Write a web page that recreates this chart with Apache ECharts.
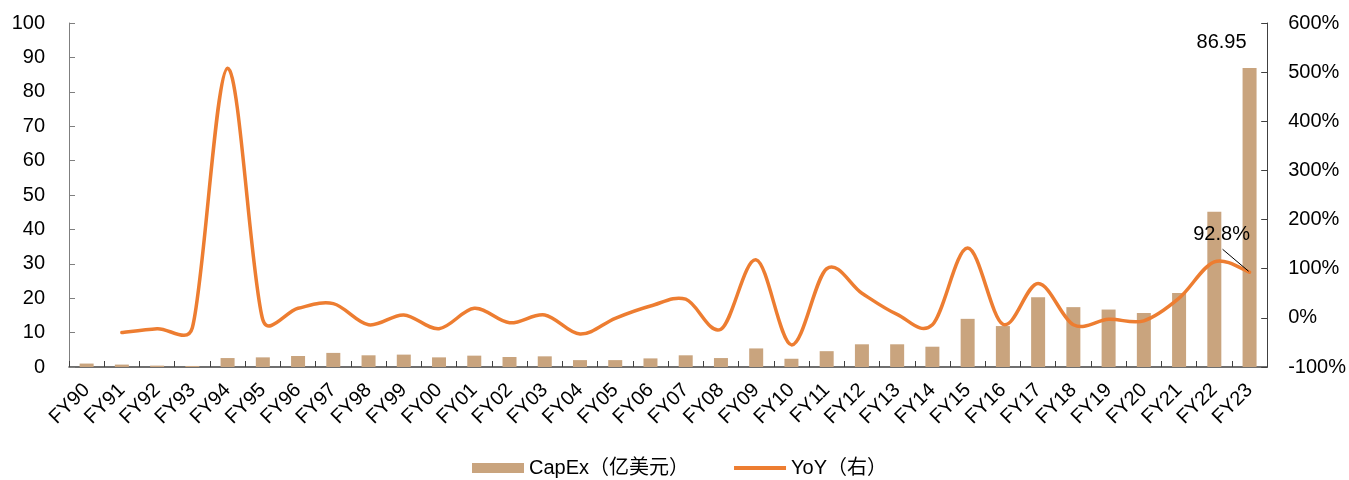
<!DOCTYPE html>
<html>
<head>
<meta charset="utf-8">
<script src="https://cdn.jsdelivr.net/npm/echarts@6/dist/echarts.min.js"></script>
<style>
  html, body { margin: 0; padding: 0; background: #fff; }
  #chart { width: 1349px; height: 480px; }
</style>
</head>
<body>
<div id="chart"></div>
<script>
// Fiscal years on the category axis
const categories = ['FY90','FY91','FY92','FY93','FY94','FY95','FY96','FY97','FY98','FY99',
  'FY00','FY01','FY02','FY03','FY04','FY05','FY06','FY07','FY08','FY09',
  'FY10','FY11','FY12','FY13','FY14','FY15','FY16','FY17','FY18','FY19',
  'FY20','FY21','FY22','FY23'];

// Capital expenditure, 亿美元 (left axis)
const capex = [1.0, 0.7, 0.4, 0.3, 2.6, 2.8, 3.2, 4.1, 3.4, 3.6,
  2.8, 3.3, 2.9, 3.1, 2.0, 2.0, 2.5, 3.4, 2.6, 5.4,
  2.4, 4.6, 6.6, 6.6, 5.9, 14.0, 11.9, 20.3, 17.4, 16.7,
  15.7, 21.5, 45.1, 86.95];

// Year-over-year growth, % (right axis); FY90 has no prior year
const yoy = [null, -30, -22, -20, 508, -4, 19.5, 29, -14, 6,
  -22, 19.5, -10, 6, -33, -1, 24, 38, -23, 118,
  -55, 100, 50, 7, -14, 142, -13, 70, -14, -3,
  -6, 40, 114, 92.8];

const leftTicks = { min: 0, max: 100, interval: 10 };
const rightTicks = { min: -100, max: 600, interval: 100 };

const FONT = 'Liberation Sans, Arial, sans-serif';
const barColor = '#C9A47E';
const lineColor = '#ED7D31';
const last = categories.length - 1;

const barData = capex.map((v, i) => i === last ? {
  value: v,
  label: { show: true, position: 'top', offset: [-28, -10], color: '#000',
           fontSize: 20, fontFamily: FONT, formatter: '{c}' }
} : v);

const yoyPoints = [];
yoy.forEach((v, i) => { if (v !== null) yoyPoints.push([i, v]); });

// Smoothed curve: cubic Bezier segments whose control points follow the
// neighbouring points (1/6 of the chord), capped at half the segment length.
function dist(a, b) { return Math.hypot(b[0] - a[0], b[1] - a[1]); }
function smoothPath(pts) {
  let d = 'M' + pts[0][0] + ' ' + pts[0][1];
  for (let i = 0; i < pts.length - 1; i++) {
    const p0 = pts[i - 1] || pts[i];
    const p1 = pts[i];
    const p2 = pts[i + 1];
    const p3 = pts[i + 2] || pts[i + 1];
    const seg = dist(p1, p2);
    const c02 = dist(p0, p2), c13 = dist(p1, p3);
    let f1 = 1 / 6, f2 = 1 / 6;
    if (c02 / 6 > seg / 2 && c02 > 0) f1 = seg / (2 * c02);
    if (c13 / 6 > seg / 2 && c13 > 0) f2 = seg / (2 * c13);
    const a = [p1[0] + (p2[0] - p0[0]) * f1, p1[1] + (p2[1] - p0[1]) * f1];
    const b = [p2[0] - (p3[0] - p1[0]) * f2, p2[1] - (p3[1] - p1[1]) * f2];
    d += ' C' + a[0] + ' ' + a[1] + ' ' + b[0] + ' ' + b[1] + ' ' + p2[0] + ' ' + p2[1];
  }
  return d;
}

function renderYoY(params, api) {
  if (params.dataIndex !== 0) return null;
  const pts = yoyPoints.map(p => api.coord(p));
  const end = pts[pts.length - 1];
  return {
    type: 'group',
    children: [
      {
        type: 'path',
        shape: { pathData: smoothPath(pts) },
        style: { fill: null, stroke: lineColor, lineWidth: 3.5, lineJoin: 'round', lineCap: 'round' }
      },
      {
        type: 'line',
        shape: { x1: end[0] - 27, y1: end[1] - 23, x2: end[0] - 1, y2: end[1] - 1 },
        style: { stroke: '#000', lineWidth: 1 }
      },
      {
        type: 'text',
        x: end[0] - 28,
        y: end[1] - 38,
        style: {
          text: yoy[last] + '%',
          fill: '#000',
          font: '20px ' + FONT,
          align: 'center',
          verticalAlign: 'middle'
        }
      }
    ]
  };
}

const chart = echarts.init(document.getElementById('chart'), null, { renderer: 'canvas' });
chart.setOption({
  animation: false,
  backgroundColor: '#fff',
  textStyle: { fontFamily: FONT },
  grid: { left: 69, right: 81, top: 23, bottom: 113, containLabel: false },
  legend: {
    top: 458,
    left: 472,
    padding: 0,
    itemWidth: 52,
    itemHeight: 10,
    itemGap: 45,
    textStyle: { fontSize: 20, color: '#000', fontFamily: FONT + ', Noto Sans CJK SC' },
    data: [
      { name: 'CapEx（亿美元）', icon: 'rect' },
      { name: 'YoY（右）', icon: 'path://M0,0H52V4H0Z' }
    ]
  },
  xAxis: {
    type: 'category',
    data: categories,
    boundaryGap: true,
    axisLine: { show: true, lineStyle: { color: '#404040', width: 1.5 } },
    axisTick: { show: true, inside: true, length: 6, lineStyle: { color: '#404040', width: 1 } },
    axisLabel: { rotate: 45, interval: 0, margin: 20,
                 color: '#000', fontSize: 20, fontFamily: FONT }
  },
  yAxis: [
    {
      type: 'value',
      min: leftTicks.min, max: leftTicks.max, interval: leftTicks.interval,
      splitLine: { show: false },
      axisLine: { show: true, lineStyle: { color: '#7f7f7f', width: 1 } },
      axisTick: { show: true, inside: true, length: 6, lineStyle: { color: '#7f7f7f' } },
      axisLabel: { margin: 24, color: '#000', fontSize: 20, fontFamily: FONT }
    },
    {
      type: 'value',
      min: rightTicks.min, max: rightTicks.max, interval: rightTicks.interval,
      splitLine: { show: false },
      axisLine: { show: true, lineStyle: { color: '#404040', width: 1 } },
      axisTick: { show: true, inside: true, length: 6, lineStyle: { color: '#404040' } },
      axisLabel: { margin: 21, color: '#000', fontSize: 20, fontFamily: FONT,
                   formatter: '{value}%' }
    }
  ],
  series: [
    {
      name: 'CapEx（亿美元）',
      type: 'bar',
      yAxisIndex: 0,
      barWidth: 14,
      itemStyle: { color: barColor },
      data: barData
    },
    {
      name: 'YoY（右）',
      type: 'custom',
      yAxisIndex: 1,
      clip: false,
      itemStyle: { color: lineColor },
      renderItem: renderYoY,
      encode: { x: 0, y: 1 },
      data: yoyPoints,
      z: 3
    }
  ]
});
</script>
</body>
</html>
